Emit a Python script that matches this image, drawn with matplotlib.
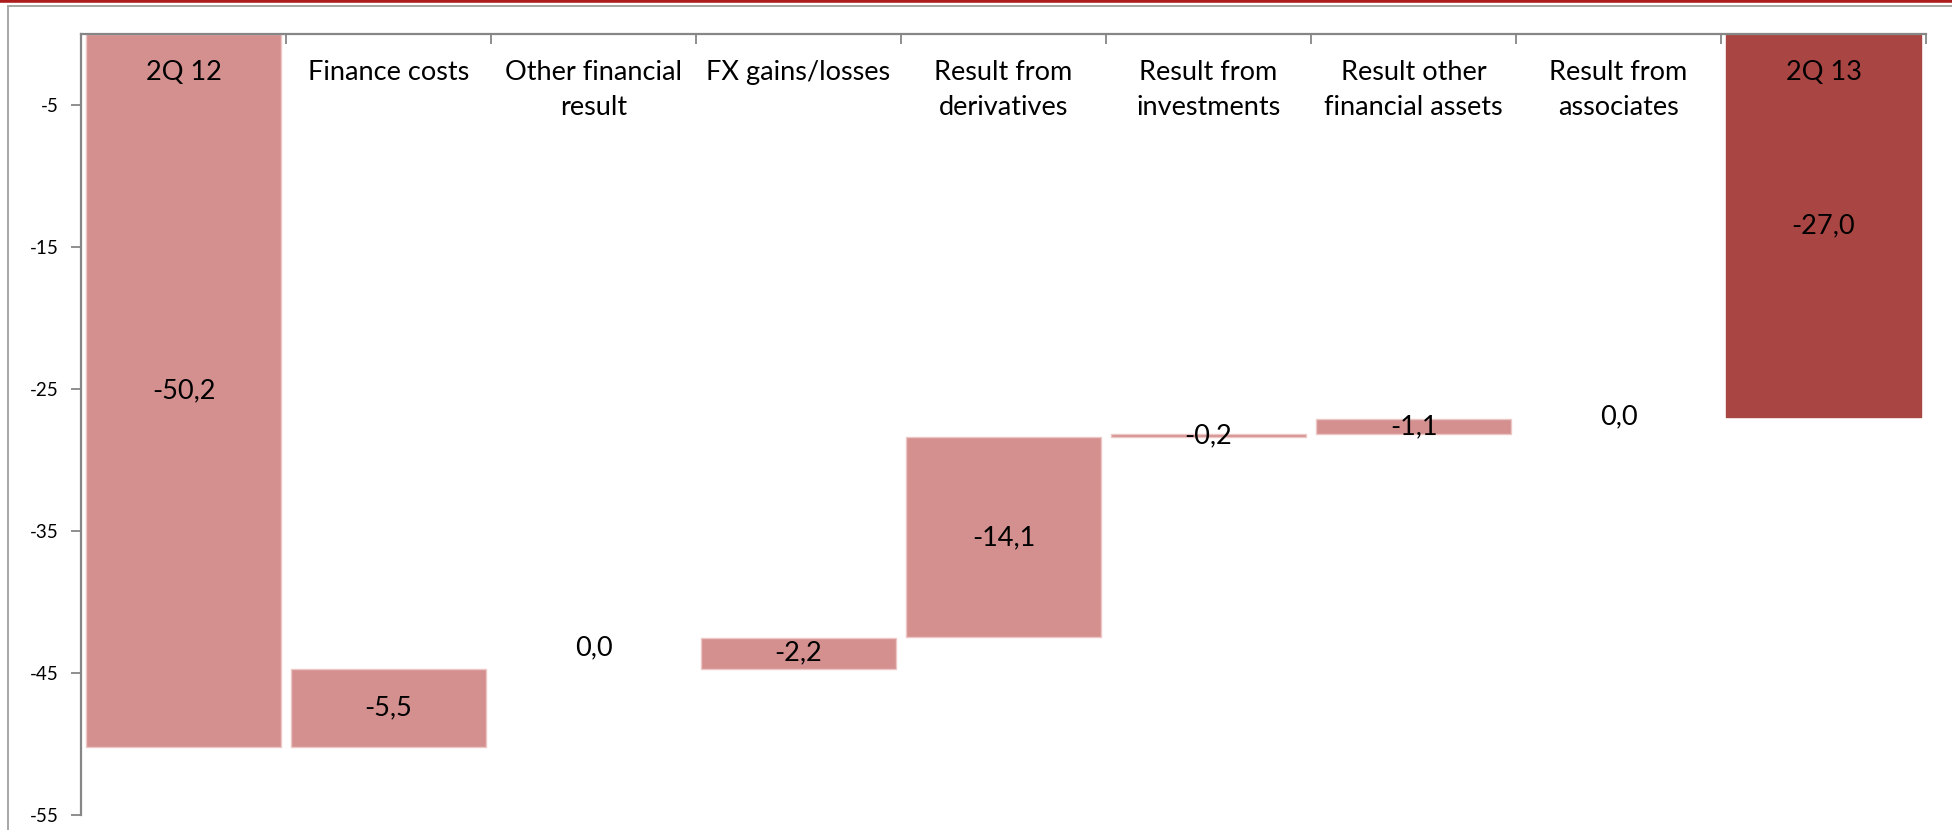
import matplotlib.pyplot as plt
from matplotlib.lines import Line2D
import numpy as np

categories = ['2Q 12', 'Finance costs', 'Other financial\nresult', 'FX gains/losses',
              'Result from\nderivatives', 'Result from\ninvestments', 'Result other\nfinancial assets',
              'Result from\nassociates', '2Q 13']
values = [-50.2, -5.5, 0.0, -2.2, -14.1, -0.2, -1.1, 0.0, -27.0]
is_total = [True, False, False, False, False, False, False, False, True]
y_ticks = [-5, -15, -25, -35, -45, -55]

LIGHT = '#d3908f'
DARK = '#a94644'
EDGE = '#ecc7c6'

plt.rcParams['font.family'] = ['Lato', 'DejaVu Sans']

W, H = 1952, 830
fig = plt.figure(figsize=(W / 100, H / 100), dpi=100)
ax = fig.add_axes([81 / W, 1 - 815 / H, (1926 - 81) / W, (815 - 34) / H])

# header band and chart frame
fig.add_artist(Line2D([0, 1], [1 - 1.5 / H, 1 - 1.5 / H], transform=fig.transFigure,
                      color='#ad1c1c', lw=2.6))
fig.add_artist(Line2D([8 / W, 1], [1 - 6 / H, 1 - 6 / H], transform=fig.transFigure,
                      color='#a6a6a6', lw=1.4))
fig.add_artist(Line2D([8 / W, 8 / W], [0, 1 - 6 / H], transform=fig.transFigure,
                      color='#a6a6a6', lw=1.4))

x = np.arange(len(categories))
level = 0.0
label_nudge = {2: 21, 7: 2}
for i, (v, total) in enumerate(zip(values, is_total)):
    if total:
        bottom, top = v, 0.0
        level = v
        color = LIGHT if i == 0 else DARK
    else:
        bottom, top = level, level - v
        level = top
        color = LIGHT
    if top - bottom > 0:
        ax.bar(x[i], top - bottom, bottom=bottom, width=0.95, color=color,
               edgecolor=EDGE if color == LIGHT else color, linewidth=1)
    txt = f'{v:.1f}'.replace('.', ',')
    if top - bottom > 0:
        ax.text(x[i], (top + bottom) / 2, txt, ha='center', va='center', fontsize=19.5)
    else:
        ax.annotate(txt, (x[i], level), xytext=(0, label_nudge.get(i, 0) * 0.72),
                    textcoords='offset points', ha='center', va='center', fontsize=19.5)
    ax.text(x[i], -1.85, categories[i], ha='center', va='top', fontsize=19.5, linespacing=1.5)

ax.set_xlim(-0.5, len(categories) - 0.5)
ax.set_ylim(-55, 0)
ax.set_yticks(y_ticks)
ax.set_yticklabels([str(t) for t in y_ticks], fontsize=13.5)

ax.xaxis.tick_top()
ax.set_xticks(np.arange(len(categories) + 1) - 0.5)
ax.set_xticklabels([])
ax.tick_params(axis='x', direction='in', length=7, color='#868686', width=1.3)
ax.tick_params(axis='y', direction='out', length=7, color='#868686', width=1.3, pad=9)

for side in ['bottom', 'right']:
    ax.spines[side].set_visible(False)
for side in ['left', 'top']:
    ax.spines[side].set_color('#868686')
    ax.spines[side].set_linewidth(1.6)

fig.savefig('out.png', dpi=100)
